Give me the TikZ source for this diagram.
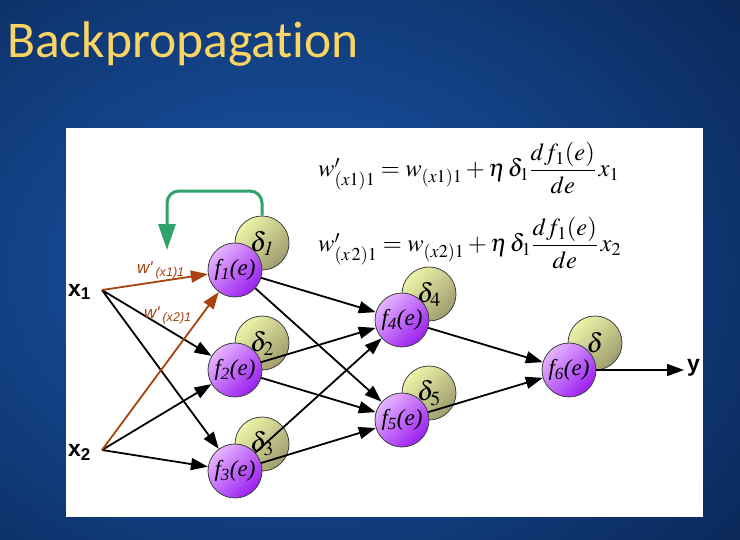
\documentclass[tikz,border=0pt]{standalone}
\usepackage{mathptmx}
\usepackage{fontspec}
\newfontfamily\titlefont[Ligatures={NoCommon,NoRare}]{Carlito}
\newfontfamily\sansf{Liberation Sans}
\newfontfamily\seriff{Liberation Serif}
\usetikzlibrary{arrows.meta}
\definecolor{bgin}{HTML}{1A5AB0}
\definecolor{bgout}{HTML}{051538}
\definecolor{gold}{HTML}{FAD563}
\definecolor{pl}{HTML}{E6B4FF}
\definecolor{pd}{HTML}{9A1FF0}
\definecolor{dl}{HTML}{EEF4A8}
\definecolor{dd}{HTML}{9E9C6E}
\definecolor{brn}{HTML}{A8420E}
\definecolor{grn}{HTML}{2FA36B}
\begin{document}
\begin{tikzpicture}[x=1pt,y=-1pt,
  fnode/.style={circle, minimum size=54pt, inner sep=0pt, draw=black!75, line width=0.8pt,
    top color=pl, bottom color=pd, shading angle=45,
    font=\seriff\itshape\fontsize{23}{23}\selectfont},
  dnode/.style={circle, minimum size=54pt, inner sep=0pt, draw=black!75, line width=0.8pt,
    top color=dl, bottom color=dd, shading angle=45,
    font=\fontsize{27}{27}\selectfont},
  edge/.style={line width=1.8pt, -{Triangle[length=17pt,width=12pt]}},
  bedge/.style={edge, draw=brn, color=brn},
  iolab/.style={font=\sansf\bfseries\fontsize{23}{23}\selectfont},
  wlab/.style={text=brn, font=\sansf\itshape\fontsize{17}{17}\selectfont, anchor=base west, inner sep=0pt},
  eqn/.style={anchor=west, font=\fontsize{24.5}{24.5}\selectfont, inner sep=0pt},
]
% background
\begin{scope}
\clip (0,0) rectangle (740,539);
\shade[inner color=bgin, outer color=bgout] (-500,-330) rectangle (1080,870);
\end{scope}
\useasboundingbox (0,0) rectangle (740,539);
% title
\node[anchor=base west, inner sep=0pt, text=gold, font=\titlefont\fontsize{51.5}{51.5}\selectfont] (title) at (7,57) {Backpropagation};
% panel
\fill[white] (66,128) rectangle (703,517);
% delta circles
\node[dnode] (d1) at (262,243) {$\delta_{\mathit 1}$};
\node[dnode] (d2) at (262,343) {$\delta_2$};
\node[dnode] (d3) at (262,444) {$\delta_3$};
\node[dnode] (d4) at (429,294) {$\delta_4$};
\node[dnode] (d5) at (429,393) {$\delta_5$};
\node[dnode] (d6) at (595,343) {$\delta$};
% neuron circles
\node[fnode] (f1) at (235,270) {f\textsubscript{1}(e)};
\node[fnode] (f2) at (235,370) {f\textsubscript{2}(e)};
\node[fnode] (f3) at (235,471) {f\textsubscript{3}(e)};
\node[fnode] (f4) at (402,320) {f\textsubscript{4}(e)};
\node[fnode] (f5) at (402,420) {f\textsubscript{5}(e)};
\node[fnode] (f6) at (569,370) {f\textsubscript{6}(e)};
% inputs / output
\coordinate (x1) at (102,290);
\coordinate (x2) at (102,450);
\coordinate (yout) at (684,370);
\node[iolab, anchor=east, inner sep=1pt] (x1l) at (92,292) {x\textsubscript{1}};
\node[iolab, anchor=east, inner sep=1pt] (x2l) at (92,452) {x\textsubscript{2}};
\node[iolab, anchor=west, inner sep=1pt] (yl) at (686,368) {y};
% edges
\draw[edge] (x1) -- (f2);
\draw[edge] (x1) -- (f3);
\draw[edge] (x2) -- (f2);
\draw[edge] (x2) -- (f3);
\draw[edge] (f1) -- (f4);
\draw[edge] (f1) -- (f5);
\draw[edge] (f2) -- (f4);
\draw[edge] (f2) -- (f5);
\draw[edge] (f3) -- (f4);
\draw[edge] (f3) -- (f5);
\draw[edge] (f4) -- (f6);
\draw[edge] (f5) -- (f6);
\draw[edge] (f6) -- (yout);
\draw[bedge] (x1) -- (f1);
\draw[bedge] (x2) -- (f1);
% weight labels
\node[wlab] (w1) at (137,273) {w'\,\textsubscript{(x1)1}};
\node[wlab] (w2) at (144,318) {w'\,\textsubscript{(x2)1}};
% feedback arrow
\coordinate (fb) at (167,250);
\draw[grn, line width=3pt, rounded corners=12pt, -{Triangle[length=26pt,width=17pt]}]
  (d1.north) -- (262,191) -- (167,191) -- (fb);
% equations
\node[eqn] (eq1) at (318,168) {$w'_{(x1)1} = w_{(x1)1} + \eta\,\delta_1 \displaystyle\frac{df_1(e)}{de}\,x_1$};
\node[eqn] (eq2) at (318,243) {$w'_{(x\,2)1} = w_{(x2)1} + \eta\,\delta_1 \displaystyle\frac{df_1(e)}{de}\,x_2$};
\end{tikzpicture}
\end{document}
